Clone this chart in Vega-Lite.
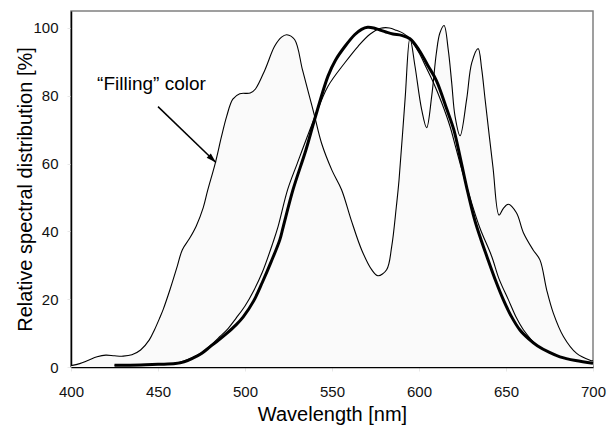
{
  "$schema": "https://vega.github.io/schema/vega-lite/v6.json",
  "width": 522,
  "height": 356,
  "autosize": {"type": "none"},
  "padding": {"left": 71, "top": 11, "right": 14, "bottom": 59},
  "background": "white",
  "config": {
    "font": "Liberation Sans",
    "view": {"stroke": "#808080", "strokeWidth": 1.5},
    "axis": {
      "grid": false,
      "domainColor": "#000000",
      "domainWidth": 1.5,
      "tickColor": "#e8e8e8",
      "tickSize": 4,
      "labelFlush": false,
      "labelOverlap": false,
      "labelFont": "Liberation Sans",
      "labelFontSize": 15,
      "labelColor": "#111111",
      "titleFont": "Liberation Sans",
      "titleFontSize": 20,
      "titleFontWeight": "normal",
      "titleColor": "#000000"
    }
  },
  "datasets": {
    "filling": [
      {"wl": 400, "v": 0.4}, {"wl": 405, "v": 1.0}, {"wl": 410, "v": 2.0}, {"wl": 415, "v": 3.0},
      {"wl": 420, "v": 3.5}, {"wl": 425, "v": 3.3}, {"wl": 430, "v": 3.2}, {"wl": 435, "v": 3.6},
      {"wl": 440, "v": 5.0}, {"wl": 445, "v": 8.0}, {"wl": 448, "v": 11}, {"wl": 451, "v": 14.5},
      {"wl": 453, "v": 17}, {"wl": 457, "v": 23}, {"wl": 461, "v": 29.6}, {"wl": 464, "v": 34.6},
      {"wl": 468, "v": 37.8}, {"wl": 472, "v": 41.6}, {"wl": 476, "v": 47}, {"wl": 478.5, "v": 52},
      {"wl": 483, "v": 60.3}, {"wl": 486.5, "v": 68}, {"wl": 489.5, "v": 74}, {"wl": 493, "v": 79},
      {"wl": 497, "v": 80.6}, {"wl": 503, "v": 80.8}, {"wl": 506, "v": 82}, {"wl": 511.5, "v": 87.7},
      {"wl": 517, "v": 94.6}, {"wl": 521, "v": 97.3}, {"wl": 524, "v": 98}, {"wl": 528.5, "v": 96.6},
      {"wl": 533, "v": 87.7}, {"wl": 537, "v": 79.9}, {"wl": 540, "v": 74}, {"wl": 544, "v": 66},
      {"wl": 550, "v": 58}, {"wl": 555.5, "v": 52.3}, {"wl": 561, "v": 43.4}, {"wl": 567, "v": 34.6},
      {"wl": 572.8, "v": 28.7}, {"wl": 576.4, "v": 26.9}, {"wl": 581.4, "v": 28.7}, {"wl": 584.3, "v": 35.5},
      {"wl": 587, "v": 47.4}, {"wl": 588.5, "v": 55}, {"wl": 592, "v": 79}, {"wl": 594.8, "v": 97},
      {"wl": 597.7, "v": 88.7}, {"wl": 601.5, "v": 76}, {"wl": 604.4, "v": 70.6}, {"wl": 607.3, "v": 79.9},
      {"wl": 610, "v": 92.7}, {"wl": 612, "v": 98.5}, {"wl": 614.4, "v": 100.7}, {"wl": 616.8, "v": 93.6},
      {"wl": 618.8, "v": 83.8}, {"wl": 620.7, "v": 74}, {"wl": 623.6, "v": 68.2}, {"wl": 627.4, "v": 79},
      {"wl": 630.3, "v": 89.7}, {"wl": 634, "v": 93.9}, {"wl": 636, "v": 88}, {"wl": 638, "v": 78.9},
      {"wl": 642.5, "v": 59}, {"wl": 646, "v": 44.8}, {"wl": 648.5, "v": 46.8}, {"wl": 651.3, "v": 48},
      {"wl": 656, "v": 45.5}, {"wl": 660, "v": 39.6}, {"wl": 665.5, "v": 34.6}, {"wl": 669.5, "v": 31.6},
      {"wl": 673.4, "v": 22.7}, {"wl": 677.2, "v": 15.9}, {"wl": 683, "v": 9}, {"wl": 690.6, "v": 4},
      {"wl": 698.3, "v": 2}, {"wl": 700, "v": 1.8}
    ],
    "thin": [
      {"wl": 425, "v": 0.5}, {"wl": 440, "v": 0.6}, {"wl": 450, "v": 0.8}, {"wl": 460, "v": 1.1},
      {"wl": 470, "v": 2.8}, {"wl": 475, "v": 4.2}, {"wl": 480, "v": 6.3}, {"wl": 485.6, "v": 9},
      {"wl": 490, "v": 11.2}, {"wl": 495, "v": 14.5}, {"wl": 500, "v": 18}, {"wl": 505, "v": 22.5},
      {"wl": 510, "v": 28}, {"wl": 516, "v": 36.6}, {"wl": 519, "v": 41.4}, {"wl": 524.5, "v": 52.3},
      {"wl": 530, "v": 60}, {"wl": 540, "v": 73.5}, {"wl": 547.7, "v": 82.8}, {"wl": 557.5, "v": 89.8},
      {"wl": 565, "v": 94.6}, {"wl": 572, "v": 98.2}, {"wl": 578, "v": 99.9}, {"wl": 583, "v": 100},
      {"wl": 587, "v": 99.3}, {"wl": 591, "v": 98.4}, {"wl": 594.8, "v": 96.8}, {"wl": 600, "v": 92.7},
      {"wl": 604, "v": 88.5}, {"wl": 608.2, "v": 84}, {"wl": 613, "v": 78}, {"wl": 617.8, "v": 71},
      {"wl": 621, "v": 65}, {"wl": 625, "v": 57.5}, {"wl": 629.3, "v": 50}, {"wl": 635, "v": 41},
      {"wl": 641.8, "v": 32.6}, {"wl": 646, "v": 26}, {"wl": 651.4, "v": 19.8}, {"wl": 656, "v": 14.5},
      {"wl": 660, "v": 11}, {"wl": 667.6, "v": 6.5}, {"wl": 675, "v": 4.3}, {"wl": 681, "v": 3},
      {"wl": 690, "v": 1.9}, {"wl": 700, "v": 1.1}
    ],
    "thick": [
      {"wl": 425, "v": 0.5}, {"wl": 440, "v": 0.6}, {"wl": 450, "v": 0.8}, {"wl": 460, "v": 1.0},
      {"wl": 465, "v": 1.5}, {"wl": 470, "v": 2.6}, {"wl": 475, "v": 4.0}, {"wl": 480, "v": 6},
      {"wl": 485, "v": 8}, {"wl": 489.5, "v": 9.9}, {"wl": 495, "v": 12.5}, {"wl": 499, "v": 14.8},
      {"wl": 505, "v": 19.5}, {"wl": 510, "v": 25}, {"wl": 515, "v": 31}, {"wl": 520, "v": 37.5},
      {"wl": 522, "v": 41.4}, {"wl": 527.6, "v": 52.3}, {"wl": 535, "v": 64}, {"wl": 540, "v": 73},
      {"wl": 547.7, "v": 85.8}, {"wl": 552, "v": 90.5}, {"wl": 557.5, "v": 94.6}, {"wl": 563, "v": 98},
      {"wl": 567, "v": 99.6}, {"wl": 570.5, "v": 100.2}, {"wl": 574, "v": 100}, {"wl": 577, "v": 99.5},
      {"wl": 581, "v": 98.8}, {"wl": 585, "v": 98.2}, {"wl": 590, "v": 97.8}, {"wl": 594.8, "v": 96.8},
      {"wl": 600, "v": 93.5}, {"wl": 605, "v": 89}, {"wl": 610, "v": 84.5}, {"wl": 616, "v": 76},
      {"wl": 620, "v": 70}, {"wl": 624, "v": 61}, {"wl": 627.4, "v": 53}, {"wl": 632, "v": 43.4},
      {"wl": 636, "v": 37}, {"wl": 639, "v": 32.6}, {"wl": 644, "v": 25.5}, {"wl": 648.5, "v": 19.8},
      {"wl": 653, "v": 15}, {"wl": 658, "v": 10.9}, {"wl": 663, "v": 8.3}, {"wl": 668, "v": 6.3},
      {"wl": 675, "v": 4.3}, {"wl": 681, "v": 3}, {"wl": 690, "v": 1.9}, {"wl": 700, "v": 1.1}
    ],
    "arrow": [{"x": 450, "y": 76.8, "x2": 483.3, "y2": 60.3}],
    "label": [{"x": 415, "y": 81.8, "text": "“Filling” color"}]
  },
  "layer": [
    {
      "data": {"name": "filling"},
      "mark": {"type": "area", "interpolate": "catmull-rom", "color": "#fafafa", "opacity": 1},
      "encoding": {
        "x": {"field": "wl", "type": "quantitative", "scale": {"domain": [400, 700], "nice": false},
          "axis": {"values": [400, 450, 500, 550, 600, 650, 700], "title": "Wavelength [nm]", "labelPadding": 13, "titlePadding": 5}},
        "y": {"field": "v", "type": "quantitative", "scale": {"domain": [0, 105], "nice": false},
          "axis": {"values": [0, 20, 40, 60, 80, 100], "title": "Relative spectral distribution [%]", "labelPadding": 9, "titlePadding": -3}}
      }
    },
    {
      "data": {"name": "filling"},
      "mark": {"type": "line", "interpolate": "catmull-rom", "color": "#000000", "strokeWidth": 1.1},
      "encoding": {
        "x": {"field": "wl", "type": "quantitative"},
        "y": {"field": "v", "type": "quantitative"}
      }
    },
    {
      "data": {"name": "thin"},
      "mark": {"type": "line", "interpolate": "catmull-rom", "color": "#000000", "strokeWidth": 1.1},
      "encoding": {
        "x": {"field": "wl", "type": "quantitative"},
        "y": {"field": "v", "type": "quantitative"}
      }
    },
    {
      "data": {"name": "thick"},
      "mark": {"type": "line", "interpolate": "catmull-rom", "color": "#000000", "strokeWidth": 3},
      "encoding": {
        "x": {"field": "wl", "type": "quantitative"},
        "y": {"field": "v", "type": "quantitative"}
      }
    },
    {
      "data": {"name": "arrow"},
      "mark": {"type": "rule", "color": "#000000", "strokeWidth": 1.5},
      "encoding": {
        "x": {"field": "x", "type": "quantitative"},
        "y": {"field": "y", "type": "quantitative"},
        "x2": {"field": "x2"},
        "y2": {"field": "y2"}
      }
    },
    {
      "data": {"name": "arrow"},
      "mark": {"type": "point", "shape": "M0,0 L-0.3,-1 L0.3,-1 Z", "filled": true, "color": "#000000", "size": 400, "angle": 314, "opacity": 1},
      "encoding": {
        "x": {"field": "x2", "type": "quantitative"},
        "y": {"field": "y2", "type": "quantitative"}
      }
    },
    {
      "data": {"name": "label"},
      "mark": {"type": "text", "align": "left", "baseline": "alphabetic", "fontSize": 19, "font": "Liberation Sans", "color": "#000000"},
      "encoding": {
        "x": {"field": "x", "type": "quantitative"},
        "y": {"field": "y", "type": "quantitative"},
        "text": {"field": "text"}
      }
    }
  ]
}
